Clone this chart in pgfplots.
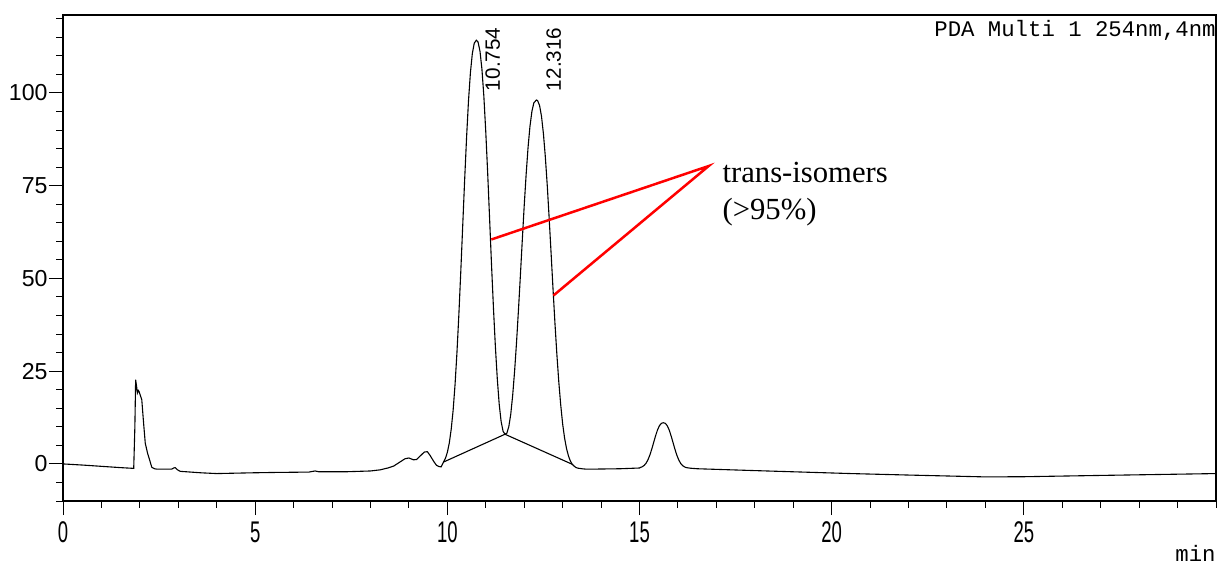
\documentclass[border=0pt]{standalone}
\usepackage{pgfplots}
\pgfplotsset{compat=1.18}
\usepackage{fontspec}
\setmainfont{Liberation Sans}
\newfontfamily\monof{Liberation Mono}
\newfontfamily\serf{Liberation Serif}
\newfontfamily\condf[FakeStretch=0.62]{Liberation Sans}
\begin{document}
\begin{tikzpicture}
\begin{axis}[
  scale only axis, width=576.5bp, height=243bp,
  xmin=0, xmax=30, ymin=-10, ymax=121,
  axis line style={line width=0.6bp},
  xtick={0,5,...,25}, minor xtick={0,1,...,30},
  ytick={0,25,...,100}, minor ytick={-10,-5,...,120},
  tick align=outside, xtick pos=bottom, ytick pos=left,
  major tick length=7bp, minor tick length=3.3bp,
  tick style={line width=0.5bp, black},
  /pgf/number format/assume math mode=true,
  xticklabel style={font=\condf\fontsize{15}{17}\selectfont},
  yticklabel style={font=\fontsize{11.6}{13}\selectfont, xshift=2.8bp},
  clip=false,
]
\addplot[black, line width=0.55bp] coordinates {
(0,0) (0.5,-0.3) (1.0,-0.65) (1.5,-1.0) (1.84,-1.2) (1.87,10) (1.89,22.7) (1.92,20.5) (1.935,19.1) (1.96,19.8) (1.98,19.5) (2.02,18.2) (2.05,17.3) (2.09,11.9) (2.14,5.6) (2.2,2.9) (2.25,1.2) (2.31,-0.9) (2.38,-1.3) (2.44,-1.4) (2.83,-1.4) (2.88,-1.1) (2.92,-1.0) (2.98,-1.6) (3.05,-2.0) (3.6,-2.4) (4.0,-2.6) (4.9,-2.4) (5.5,-2.3) (6.4,-2.2) (6.5,-2.0) (6.56,-1.9) (6.65,-2.1) (7.4,-2.1) (8.0,-1.9) (8.25,-1.6) (8.45,-1.1) (8.6,-0.6) (8.75,0.4) (8.9,1.4) (9.0,1.6) (9.12,1.1) (9.2,1.2) (9.3,2.2) (9.4,3.2) (9.48,3.3) (9.55,2.3) (9.65,0.6) (9.72,-0.4) (9.78,-0.7) (9.84,-0.8)
(9.90,0.5) (9.95,1.5) (10.00,3.1) (10.05,5.6) (10.10,9.3) (10.15,14.4) (10.20,21.3) (10.25,30.0) (10.30,40.3) (10.35,51.9) (10.40,64.2) (10.45,76.5) (10.50,87.9) (10.55,97.8) (10.60,105.4) (10.65,110.6) (10.70,113.4) (10.754,114.2) (10.80,113.7) (10.85,111.2) (10.90,106.4) (10.95,99.1) (11.00,89.5) (11.05,78.3) (11.10,66.0) (11.15,53.6) (11.20,42.0) (11.25,31.6) (11.30,22.9) (11.35,16.0) (11.40,11.4) (11.45,8.8) (11.50,8.0) (11.55,8.3) (11.60,10.1) (11.65,13.4) (11.70,18.5) (11.75,25.0) (11.80,32.7) (11.85,41.4) (11.90,50.7) (11.95,60.3) (12.00,69.6) (12.05,78.0) (12.10,85.3) (12.15,91.0) (12.20,95.0) (12.25,97.3) (12.316,98.1) (12.35,97.9) (12.40,96.6) (12.45,93.7) (12.50,89.0) (12.55,82.7) (12.60,75.0) (12.65,66.1) (12.70,56.7) (12.75,47.1) (12.80,37.9) (12.85,29.5) (12.90,22.1) (12.95,15.9) (13.00,10.8) (13.05,7.0) (13.10,4.2) (13.15,2.2) (13.20,0.8) (13.25,-0.1) (13.30,-0.6) (13.35,-1.0) (13.40,-1.15) (13.50,-1.3) (13.60,-1.4) (13.8,-1.4) (14.5,-1.3) (15.0,-1.1)
(15.02,-0.96) (15.07,-0.77) (15.12,-0.42) (15.17,0.18) (15.22,1.12) (15.27,2.41) (15.32,4.04) (15.37,5.85) (15.42,7.65) (15.47,9.21) (15.52,10.33) (15.57,10.95) (15.62,11.1) (15.67,10.95) (15.72,10.33) (15.77,9.2) (15.82,7.63) (15.87,5.83) (15.92,4.02) (15.97,2.39) (16.02,1.1) (16.07,0.15) (16.12,-0.45) (16.17,-0.8) (16.22,-1.0) (16.32,-1.15) (16.5,-1.3)
(18,-1.8) (20.5,-2.6) (22,-3.0) (24,-3.5) (25,-3.45) (27,-3.1) (30,-2.6)
};
\addplot[black, line width=0.55bp] coordinates {(9.9,0.5) (11.5,8.0) (13.25,-0.1)};
\addplot[red, line width=1.25bp] coordinates {(11.146,60.5) (16.8,80.3) (12.76,45.4)};
\node[rotate=90, anchor=west, inner sep=0, font=\fontsize{10.4}{12}\selectfont] at (axis cs:11.18,100.4) {10.754};
\node[rotate=90, anchor=west, inner sep=0, font=\fontsize{10.4}{12}\selectfont] at (axis cs:12.77,100.4) {12.316};
\node[anchor=base west, inner sep=0, font=\serf\fontsize{15.4}{18}\selectfont] at (axis cs:17.15,75.9) {trans-isomers};
\node[anchor=base west, inner sep=0, font=\serf\fontsize{15.4}{18}\selectfont] at (axis cs:17.15,65.9) {(>95\%)};
\node[anchor=base east, inner sep=0, font=\monof\fontsize{11.2}{13}\selectfont] at ([yshift=-10.8bp,xshift=0bp]rel axis cs:1,1) {PDA Multi 1 254nm,4nm};
\node[anchor=base east, inner sep=0, font=\monof\fontsize{11.2}{13}\selectfont] at ([yshift=-30bp,xshift=0bp]rel axis cs:1,0) {min};
\draw[line width=1.2bp] (rel axis cs:0,0) -- (rel axis cs:1,0);
\coordinate (bbl) at (rel axis cs:-0.05464,-0.1317);
\coordinate (btr) at (rel axis cs:1.0026,1.0309);
\end{axis}
\pgfresetboundingbox
\path[use as bounding box] (bbl) rectangle (btr);
\end{tikzpicture}
\end{document}
